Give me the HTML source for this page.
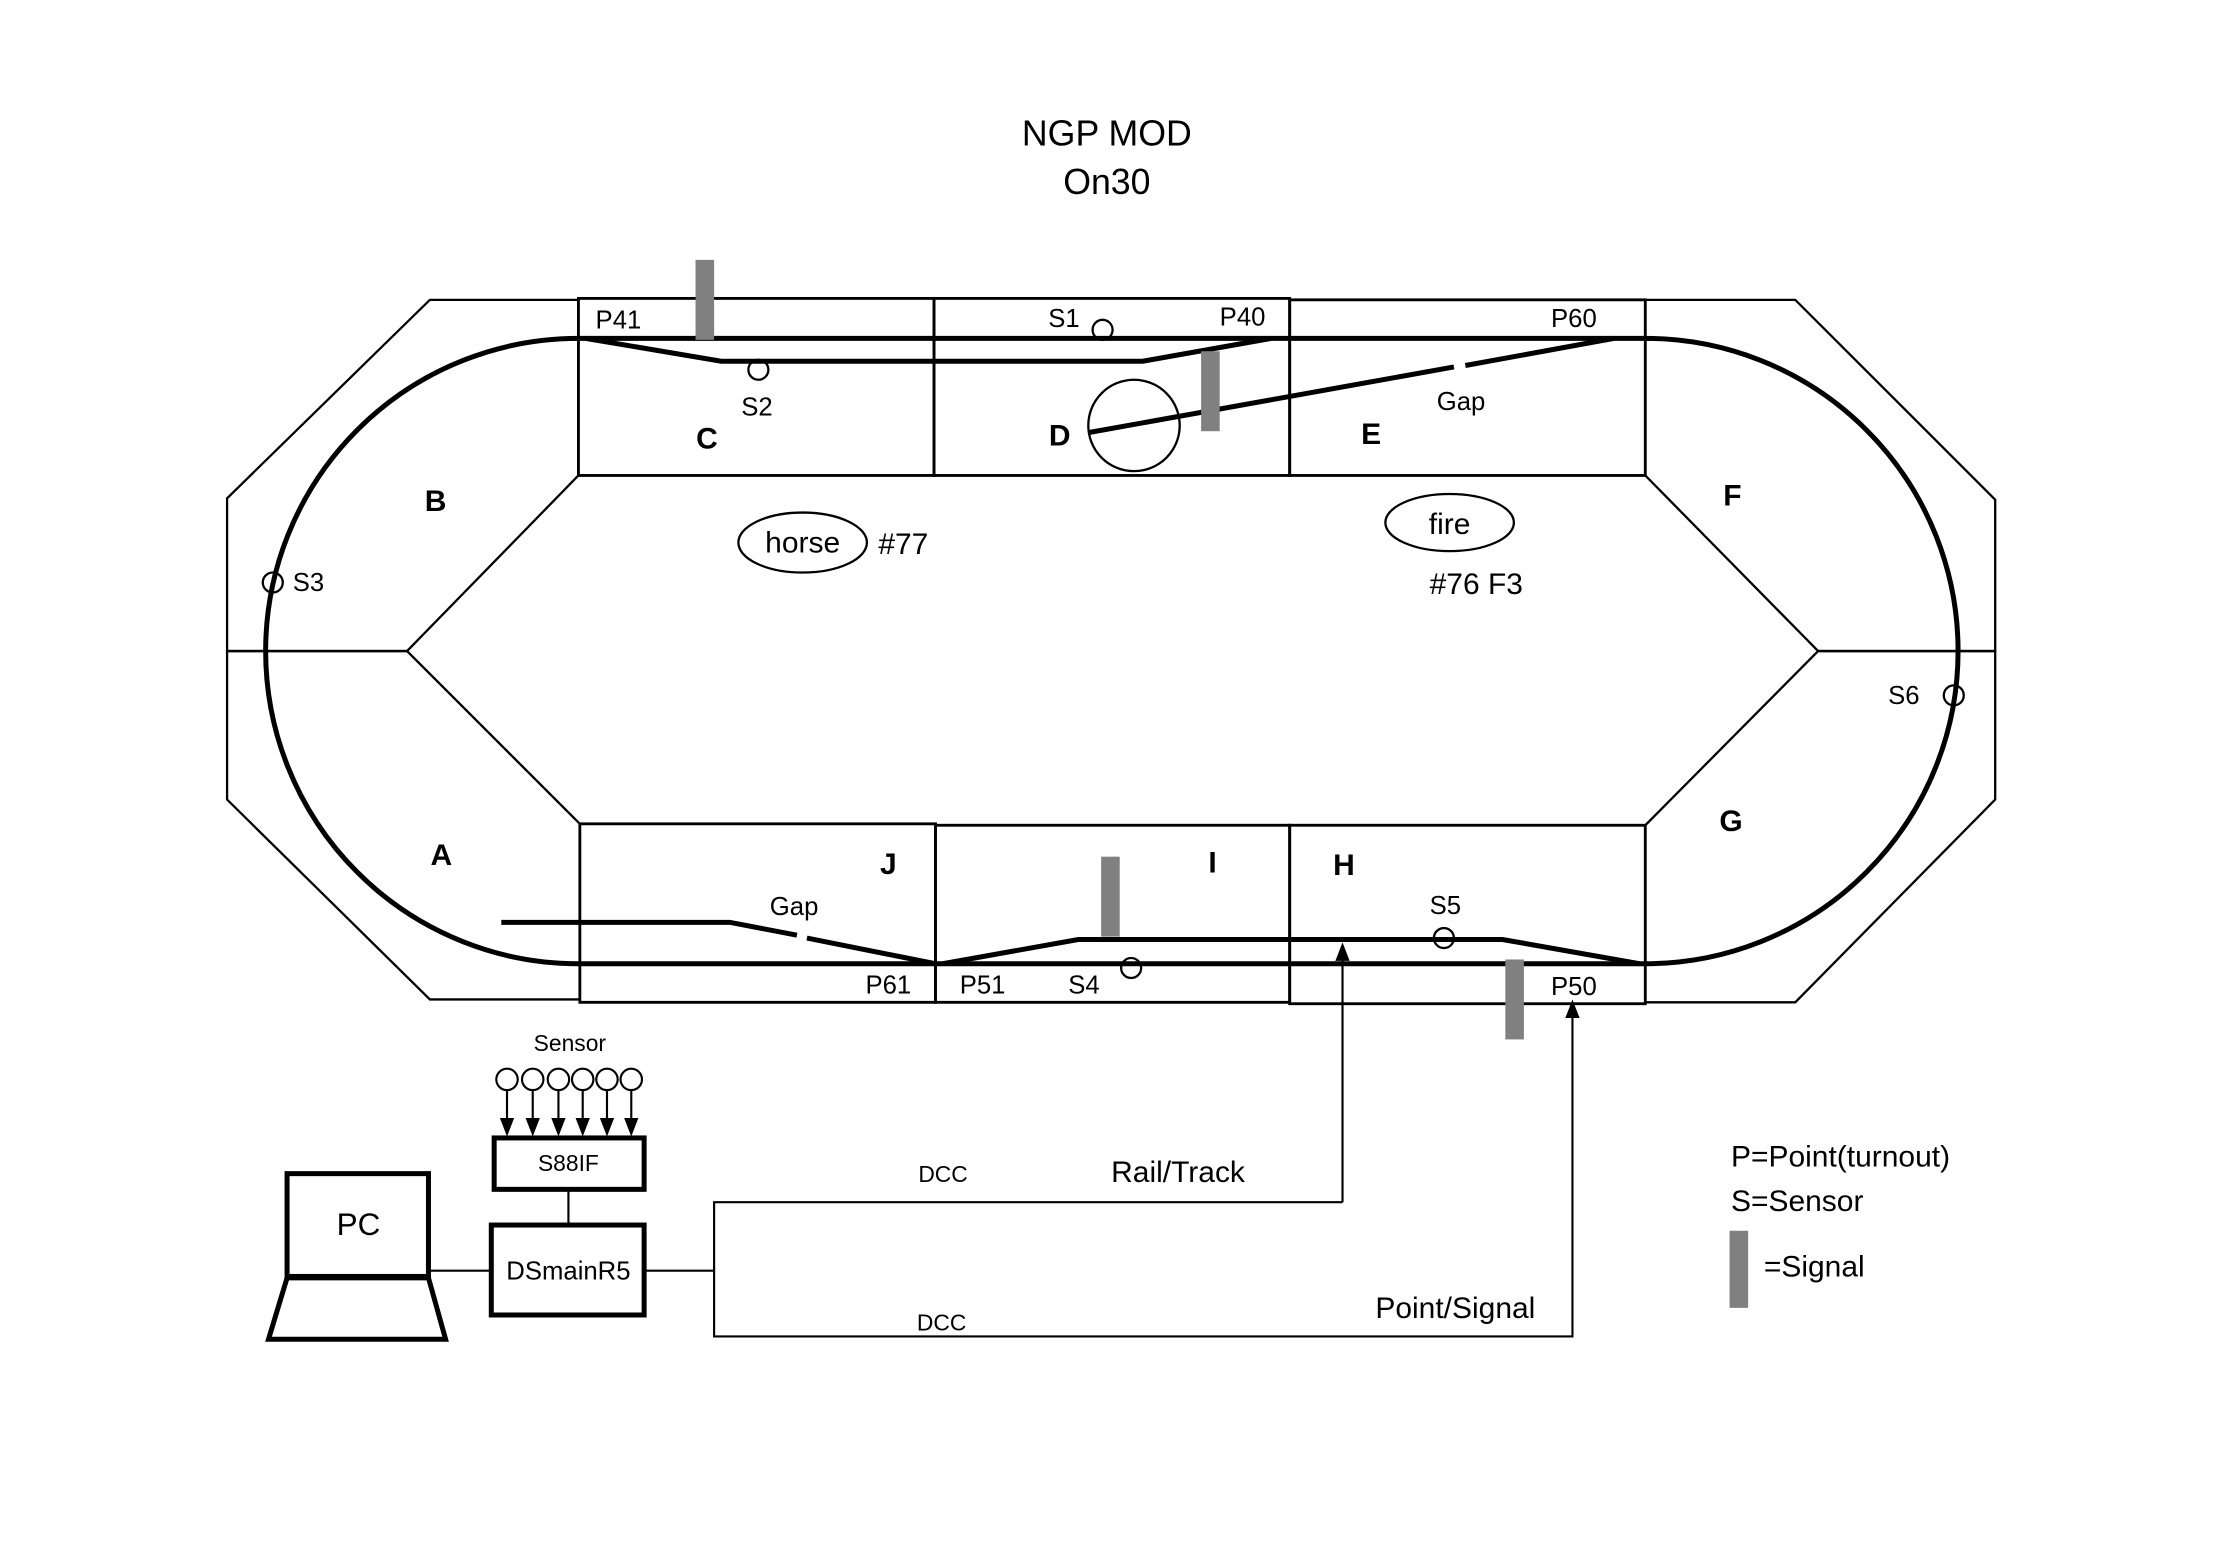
<!DOCTYPE html>
<html><head><meta charset="utf-8"><style>
html,body{margin:0;padding:0;background:#fff;}
svg{display:block;}
text{font-family:"Liberation Sans",sans-serif;fill:#000;}
</style></head><body>
<svg width="2238" height="1552" viewBox="0 0 1567 1087" preserveAspectRatio="none" xmlns="http://www.w3.org/2000/svg">
<rect width="1567" height="1087" fill="#fff"/>
<text x="775" y="102" font-size="25" text-anchor="middle">NGP MOD</text>
<text x="775" y="136" font-size="25" text-anchor="middle">On30</text>

<g fill="none" stroke="#000" stroke-width="1.6">
<polygon points="301,210 405,210 405,333 285,456 159,456 159,349"/>
<polygon points="159,456 285,456 406,577 406,700 301,700 159,560"/>
<polygon points="1152,210 1257,210 1397,350 1397,456 1273,456 1152,333"/>
<polygon points="1273,456 1397,456 1397,560 1257,702 1152,702 1152,578"/>
<rect x="405" y="209" width="249" height="124" stroke-width="2"/>
<rect x="654" y="209" width="249" height="124" stroke-width="2"/>
<rect x="903" y="210" width="249" height="123" stroke-width="2"/>
<rect x="406" y="577" width="249" height="125" stroke-width="2"/>
<rect x="655" y="578" width="248" height="124" stroke-width="2"/>
<rect x="903" y="578" width="249" height="125" stroke-width="2"/>
</g>

<g fill="none" stroke="#000" stroke-width="3.5">
<path d="M405,237 L1152,237 A219,219 0 0 1 1152,675 L405,675 A219,219 0 0 1 405,237 Z"/>
<polyline points="410,237 505,253 800,253 890,237"/>
<line x1="762" y1="303" x2="1018" y2="257"/>
<line x1="1026" y1="256" x2="1130" y2="237"/>
<polyline points="351,646 511,646 558,655"/>
<line x1="565" y1="657" x2="655" y2="675"/>
<polyline points="660,675 755,658 1052,658 1148,675"/>
</g>

<g fill="#808080">
<rect x="487" y="182" width="13" height="56"/>
<rect x="841" y="246" width="13" height="56"/>
<rect x="771" y="600" width="13" height="56"/>
<rect x="1054" y="672" width="13" height="56"/>
<rect x="1211" y="862" width="13" height="54"/>
</g>

<g fill="none" stroke="#000" stroke-width="1.6">
<circle cx="531" cy="259" r="7"/>
<circle cx="772" cy="231" r="7"/>
<ellipse cx="794" cy="298" rx="32" ry="32"/>
<circle cx="191" cy="408" r="7"/>
<circle cx="1368" cy="487" r="7"/>
<circle cx="792" cy="678" r="7"/>
<circle cx="1011" cy="657" r="7"/>
<ellipse cx="562" cy="380" rx="45" ry="21"/>
<ellipse cx="1015" cy="366" rx="45" ry="20"/>
</g>

<g font-size="18">
<text x="417" y="230">P41</text>
<text x="734" y="229">S1</text>
<text x="854" y="228">P40</text>
<text x="1086" y="229">P60</text>
<text x="519" y="291">S2</text>
<text x="1006" y="287">Gap</text>
<text x="205" y="414">S3</text>
<text x="1322" y="493">S6</text>
<text x="539" y="641">Gap</text>
<text x="1001" y="640">S5</text>
<text x="606" y="696">P61</text>
<text x="672" y="696">P51</text>
<text x="748" y="696">S4</text>
<text x="1086" y="697">P50</text>
<text x="399" y="736" font-size="16" text-anchor="middle">Sensor</text>
</g>

<g font-size="21" font-weight="bold" text-anchor="middle">
<text x="495" y="314">C</text>
<text x="742" y="312">D</text>
<text x="960" y="311">E</text>
<text x="305" y="358">B</text>
<text x="1213" y="354">F</text>
<text x="309" y="606">A</text>
<text x="1212" y="582">G</text>
<text x="622" y="612">J</text>
<text x="849" y="611">I</text>
<text x="941" y="613">H</text>
</g>

<g font-size="21">
<text x="562" y="387" text-anchor="middle">horse</text>
<text x="615" y="388">#77</text>
<text x="1015" y="374" text-anchor="middle">fire</text>
<text x="1001" y="416">#76 F3</text>
</g>

<g fill="none" stroke="#000" stroke-width="1.5">
<polyline points="940,842 500,842 500,936 1101,936 1101,712"/>
<line x1="940" y1="842" x2="940" y2="672"/>
<line x1="451" y1="890" x2="500" y2="890"/>
<line x1="300" y1="890" x2="344" y2="890"/>
<line x1="398" y1="833" x2="398" y2="858"/>
</g>
<polygon points="940,660 935,673 945,673" fill="#000"/>
<polygon points="1101,700 1096,713 1106,713" fill="#000"/>

<g fill="none" stroke="#000" stroke-width="3.5">
<rect x="346" y="797" width="105" height="36"/>
<rect x="344" y="858" width="107" height="63"/>
<rect x="201" y="822" width="99" height="72"/>
<polygon points="201,895 300,895 312,938 188,938"/>
</g>
<g stroke="#000" stroke-width="1.5" fill="none">
<circle cx="355" cy="756" r="7.5"/><circle cx="373" cy="756" r="7.5"/><circle cx="391" cy="756" r="7.5"/>
<circle cx="408" cy="756" r="7.5"/><circle cx="425" cy="756" r="7.5"/><circle cx="442" cy="756" r="7.5"/>
<line x1="355" y1="763" x2="355" y2="786"/><line x1="373" y1="763" x2="373" y2="786"/><line x1="391" y1="763" x2="391" y2="786"/>
<line x1="408" y1="763" x2="408" y2="786"/><line x1="425" y1="763" x2="425" y2="786"/><line x1="442" y1="763" x2="442" y2="786"/>
</g>
<g fill="#000">
<polygon points="350,783 360,783 355,796"/><polygon points="368,783 378,783 373,796"/><polygon points="386,783 396,783 391,796"/>
<polygon points="403,783 413,783 408,796"/><polygon points="420,783 430,783 425,796"/><polygon points="437,783 447,783 442,796"/>
</g>
<text x="398" y="820" font-size="16" text-anchor="middle">S88IF</text>
<text x="398" y="896" font-size="18" text-anchor="middle">DSmainR5</text>
<text x="251" y="865" font-size="22" text-anchor="middle">PC</text>

<g font-size="16">
<text x="643" y="828">DCC</text>
<text x="642" y="932">DCC</text>
</g>
<g font-size="21">
<text x="778" y="828">Rail/Track</text>
<text x="963" y="923">Point/Signal</text>
<text x="1212" y="817">P=Point(turnout)</text>
<text x="1212" y="848">S=Sensor</text>
<text x="1235" y="894">=Signal</text>
</g>
</svg>
</body></html>
